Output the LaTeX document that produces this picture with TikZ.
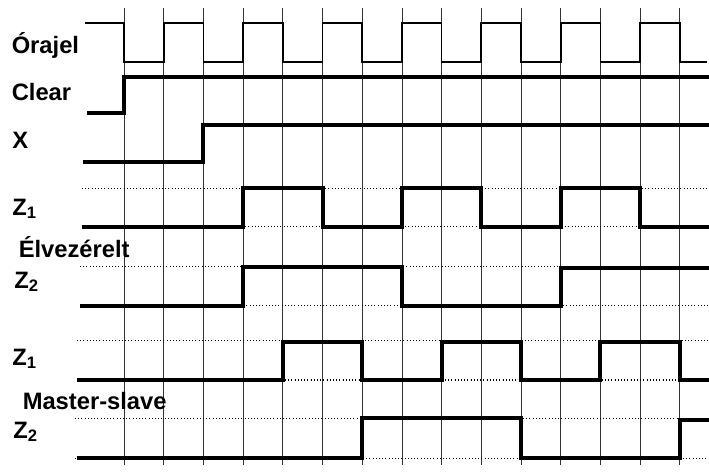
\documentclass[tikz,border=0pt]{standalone}
\usepackage{fontspec}
\setmainfont{Liberation Sans}
\usepackage{tikz}

\tikzset{
    gridline/.style={line width=0.6pt, black!80},
    clockline/.style={line width=1.3pt, line join=miter},
    sigline/.style={line width=3pt, line join=miter},
    levelline/.style={line width=0.9pt, dash pattern=on 0.8pt off 1.6pt},
    lbl/.style={anchor=base west, inner sep=0pt, font=\bfseries\fontsize{17.8}{20}\selectfont}
}

\begin{document}
\begin{tikzpicture}[x=0.75pt, y=-0.75pt]

\useasboundingbox (0,0) rectangle (709,471);

% Vertical grid, one line per half clock period
\foreach \i in {0,...,14}
    \draw[gridline] ({124+39.7*\i},8) -- ({124+39.7*\i},465);

% Labels
\node[lbl] (orajel) at (11.5,53.3) {Órajel};
\node[lbl] (clear)  at (11.5,100)  {Clear};
\node[lbl] (xin)    at (12,148.3) {X};
\node[lbl] (ez1)    at (12,215)  {Z\textsubscript{1}};
\node[lbl] (elv)    at (18.5,257.3)  {Élvezérelt};
\node[lbl] (ez2)    at (14,288.3)  {Z\textsubscript{2}};
\node[lbl] (mz1)    at (12,365)  {Z\textsubscript{1}};
\node[lbl] (ms)     at (22.5,409) {Master-slave};
\node[lbl] (mz2)    at (13,438.3)  {Z\textsubscript{2}};

% Clock: falls on even grid lines, rises on odd ones
\draw[clockline] (85,23.3)
    foreach \k in {0,...,6} {
        -- ({124+79.4*\k},23.3) -- ({124+79.4*\k},61.7)
        -- ({163.7+79.4*\k},61.7) -- ({163.7+79.4*\k},23.3)
    }
    -- (679.8,23.3) -- (679.8,61.7) -- (707,61.7);

% Clear
\draw[sigline] (87,113.3) -- (124,113.3) -- (124,76.7) -- (709,76.7);

% X
\draw[sigline] (83,161.7) -- (203.4,161.7) -- (203.4,125) -- (709,125);

% Edge triggered: reference levels
\draw[levelline] (82,188.3) -- (709,188.3);
\draw[levelline] (82,226.7) -- (709,226.7);
\draw[levelline] (80,266.7) -- (709,266.7);
\draw[levelline] (80,305.7) -- (709,305.7);

% Edge triggered Z1, Z2 (change on rising clock edge)
\draw[sigline] (82,226.7) -- (243.1,226.7) -- (243.1,188.3) -- (322.5,188.3)
    -- (322.5,226.7) -- (401.9,226.7) -- (401.9,188.3) -- (481.3,188.3)
    -- (481.3,226.7) -- (560.7,226.7) -- (560.7,188.3) -- (640.1,188.3)
    -- (640.1,226.7) -- (709,226.7);
\draw[sigline] (80,305.7) -- (243.1,305.7) -- (243.1,266.7) -- (401.9,266.7)
    -- (401.9,305.7) -- (560.7,305.7) -- (560.7,268) -- (709,268);

% Master-slave: reference levels
\draw[levelline] (77,340.7) -- (709,340.7);
\draw[levelline] (77,380) -- (709,380);
\draw[levelline] (75,418.3) -- (709,418.3);
\draw[levelline] (75,458.3) -- (709,458.3);

% Master-slave Z1, Z2 (change on falling clock edge)
\draw[sigline] (77,380) -- (282.8,380) -- (282.8,341.7) -- (362.2,341.7)
    -- (362.2,380) -- (441.6,380) -- (441.6,341.7) -- (521,341.7)
    -- (521,380) -- (600.4,380) -- (600.4,341.7) -- (679.8,341.7)
    -- (679.8,380) -- (709,380);
\draw[sigline] (77,458.3) -- (362.2,458.3) -- (362.2,418.3) -- (521,418.3)
    -- (521,458.3) -- (679.8,458.3) -- (679.8,420) -- (709,420);

\end{tikzpicture}
\end{document}
